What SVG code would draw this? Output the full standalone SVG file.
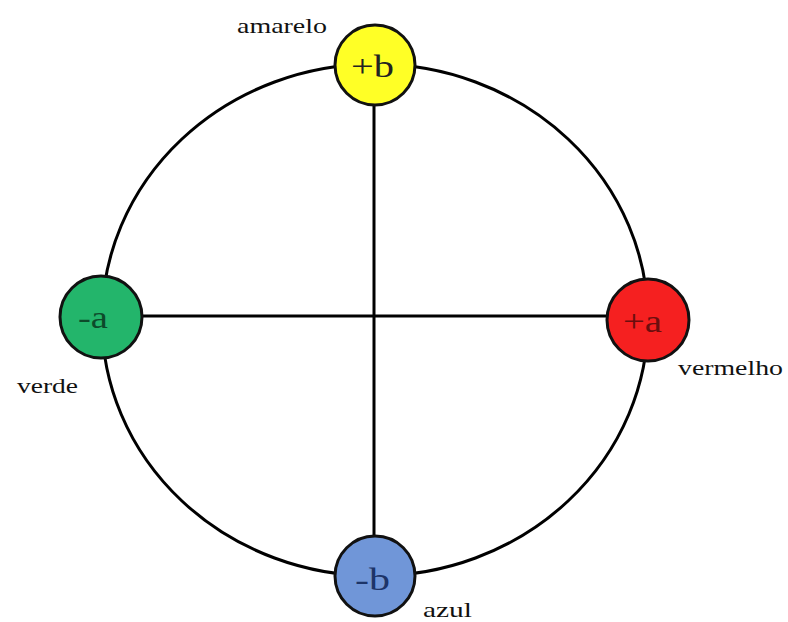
<svg xmlns="http://www.w3.org/2000/svg" width="788" height="622" viewBox="0 0 788 622">
<style>
.n{stroke:#111;stroke-width:3}
.t{font-family:"Liberation Serif",serif;font-size:32px}
.l{font-family:"Liberation Serif",serif;font-size:22px;fill:#111}
.c{fill:none;stroke:#000;stroke-width:3}
</style>
<rect width="788" height="622" fill="#fff"/>
<g id="connectors">
<ellipse class="c" cx="375" cy="320" rx="273" ry="256"/>
<line class="c" x1="143" y1="316" x2="606" y2="316"/>
<line class="c" x1="374" y1="106" x2="374" y2="536"/>
</g>
<g id="plus-b">
<circle class="n" cx="375" cy="65" r="40" fill="#ffff26"/>
<text class="t" x="351" y="77" fill="#222" textLength="43" lengthAdjust="spacingAndGlyphs">+b</text>
<text class="l" x="237" y="33" textLength="90" lengthAdjust="spacingAndGlyphs">amarelo</text>
</g>
<g id="minus-a">
<circle class="n" cx="101" cy="317" r="41" fill="#23b56b"/>
<text class="t" x="78" y="328" fill="#0d4a2a" textLength="30" lengthAdjust="spacingAndGlyphs">-a</text>
<text class="l" x="17" y="393" textLength="61" lengthAdjust="spacingAndGlyphs">verde</text>
</g>
<g id="plus-a">
<circle class="n" cx="648" cy="320" r="41" fill="#f52020"/>
<text class="t" x="623" y="332" fill="#6a0e0e" textLength="39" lengthAdjust="spacingAndGlyphs">+a</text>
<text class="l" x="678" y="375" textLength="105" lengthAdjust="spacingAndGlyphs">vermelho</text>
</g>
<g id="minus-b">
<circle class="n" cx="375" cy="576" r="40" fill="#7096d8"/>
<text class="t" x="355" y="590" fill="#1d3468" textLength="35" lengthAdjust="spacingAndGlyphs">-b</text>
<text class="l" x="423" y="617" textLength="49" lengthAdjust="spacingAndGlyphs">azul</text>
</g>
</svg>
